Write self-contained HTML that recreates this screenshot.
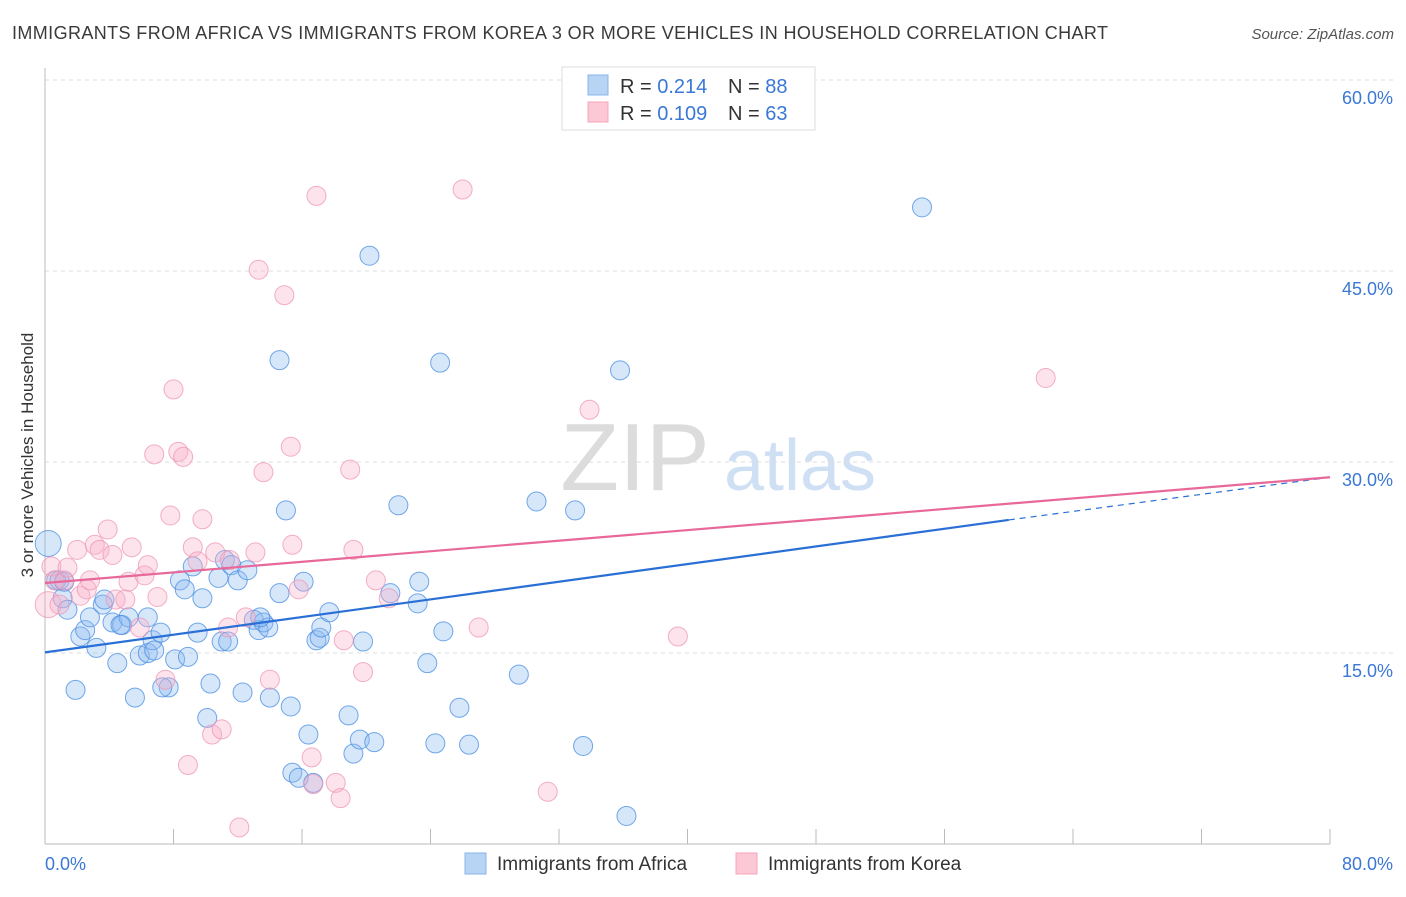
<!DOCTYPE html>
<html><head><meta charset="utf-8">
<style>
body{margin:0;background:#fff;font-family:"Liberation Sans",sans-serif;}
svg text{font-family:"Liberation Sans",sans-serif;}
</style></head>
<body>
<svg id="chart" width="1406" height="892" viewBox="0 0 1406 892" xmlns="http://www.w3.org/2000/svg">
<text x="12" y="39" font-size="18" fill="#3a3a3a" textLength="1096" lengthAdjust="spacing">IMMIGRANTS FROM AFRICA VS IMMIGRANTS FROM KOREA 3 OR MORE VEHICLES IN HOUSEHOLD CORRELATION CHART</text>
<text x="1394" y="39" font-size="15" fill="#555" font-style="italic" text-anchor="end">Source: ZipAtlas.com</text>
<g>
<text x="635" y="490" font-size="96" fill="#dcdcdc" font-family="Liberation Serif,serif" text-anchor="middle">ZIP</text>
<text x="800" y="490" font-size="72" fill="#cfe0f4" text-anchor="middle">atlas</text>
</g>
<g id="grid"></g>
<g id="axes"></g>
<g id="marks"></g>
<g id="lines"></g>
<text transform="translate(33,455) rotate(-90)" font-size="17" fill="#333" text-anchor="middle">3 or more Vehicles in Household</text>
<g>
<rect x="562" y="67" width="253" height="63" fill="#fff" stroke="#ddd"/>
<rect x="588" y="75" width="20" height="20" fill="#b8d4f5" stroke="#8ab4e8"/>
<rect x="588" y="102" width="20" height="20" fill="#fcc8d6" stroke="#f3a5bb"/>
<text x="620" y="93" font-size="20" fill="#333">R = <tspan fill="#3a78d4">0.214</tspan></text>
<text x="728" y="93" font-size="20" fill="#333">N = <tspan fill="#3a78d4">88</tspan></text>
<text x="620" y="120" font-size="20" fill="#333">R = <tspan fill="#3a78d4">0.109</tspan></text>
<text x="728" y="120" font-size="20" fill="#333">N = <tspan fill="#3a78d4">63</tspan></text>
</g>
<g>
<rect x="465" y="853" width="21" height="21" fill="#b8d4f5" stroke="#8ab4e8"/>
<text x="497" y="870" font-size="19" fill="#333">Immigrants from Africa</text>
<rect x="736" y="853" width="21" height="21" fill="#fcc8d6" stroke="#f3a5bb"/>
<text x="768" y="870" font-size="19" fill="#333">Immigrants from Korea</text>
</g>
</svg>
<script>
const yTicks=[15,30,45,60];
const yTickLabels=["15.0%","30.0%","45.0%","60.0%"];
const xTicks=[0,8,16,24,32,40,48,56,64,72,80];
const xEndLabels=["0.0%","80.0%"];
const africaX=[0.2,0.7,1.1,1.4,1.9,2.2,2.5,2.8,3.2,3.6,3.7,4.2,4.5,4.8,5.2,5.6,5.9,6.4,6.7,6.8,7.2,7.7,8.1,8.4,8.7,8.9,9.2,9.5,9.8,10.1,10.3,10.8,11.0,11.2,11.4,11.6,12.0,12.3,12.6,13.0,13.3,13.6,13.9,14.0,14.6,14.6,15.0,15.3,15.4,15.8,16.1,16.4,16.7,16.9,17.1,17.2,17.7,18.9,19.2,19.6,19.8,20.2,20.5,21.5,22.0,23.2,23.3,23.8,24.3,24.6,24.8,25.8,26.4,29.5,30.6,33.0,33.5,35.8,36.2,54.6,13.4,6.4,7.3,0.9,1.2,4.7];
const africaY=[23.6,20.7,19.3,18.4,12.1,16.3,16.8,17.8,15.4,18.8,19.2,17.4,14.2,17.2,17.8,11.5,14.8,15.0,16.0,15.2,16.6,12.3,14.5,20.7,20.0,14.7,21.8,16.6,19.3,9.9,12.6,20.9,15.9,22.3,15.9,21.9,20.7,11.9,21.5,17.6,16.8,17.4,17.0,11.5,19.7,38.0,26.2,10.8,5.6,5.2,20.6,8.6,4.8,16.0,16.2,17.0,18.2,10.1,7.1,8.2,15.9,46.2,8.0,19.7,26.6,18.9,20.6,14.2,7.9,37.8,16.7,10.7,7.8,13.3,26.9,26.2,7.7,37.2,2.2,50.0,17.8,17.8,12.3,20.7,20.6,17.2];
const koreaX=[0.2,0.4,0.6,1.2,1.4,2.0,2.2,2.6,3.1,3.4,3.9,4.2,4.4,5.0,5.2,5.4,5.9,6.2,6.4,6.8,7.0,7.5,7.8,8.0,8.3,8.6,9.2,9.5,9.8,10.4,10.6,11.0,11.4,12.1,12.5,13.1,13.3,13.6,14.0,14.9,15.3,15.4,15.8,16.6,16.7,16.9,18.1,18.4,18.6,19.0,19.2,19.8,20.6,21.4,26.0,27.0,31.3,33.9,39.4,62.3,0.9,2.8,11.5,8.9];
const koreaY=[18.8,21.8,20.7,20.7,21.7,23.1,19.5,20.0,23.5,23.1,24.7,22.7,19.2,19.2,20.6,23.3,17.0,21.1,21.9,30.6,19.4,12.9,25.8,35.7,30.8,30.4,23.3,22.2,25.5,8.6,22.9,9.0,17.0,1.3,17.8,22.9,45.1,29.2,12.9,43.1,31.2,23.5,20.0,6.8,4.7,50.9,4.8,3.6,16.0,29.4,23.1,13.5,20.7,19.3,51.4,17.0,4.1,34.1,16.3,36.6,18.8,20.7,22.3,6.2];
const africaFit=[[0,15.05],[60,25.45],[80,28.8]];
const koreaFit=[[0,20.5],[80,28.8]];
const NS="http://www.w3.org/2000/svg";
const sx=v=>45+v*(1285/80);
const sy=v=>844-v*(764/60);
function mk(tag,attrs,parent){const e=document.createElementNS(NS,tag);for(const k in attrs)e.setAttribute(k,attrs[k]);document.getElementById(parent).appendChild(e);return e;}
yTicks.forEach((t,i)=>{
 const g=mk('line',{x1:45,x2:1394,y1:sy(t),y2:sy(t),stroke:'#ddd','stroke-dasharray':'4 4'},'grid');
 
 
 const l=mk('text',{x:1393,y:sy(t)+24,'font-size':18,fill:'#3a78d4','text-anchor':'end'},'axes');
 l.textContent=yTickLabels[i];
 
 
});
const ya=mk('line',{x1:45,x2:45,y1:68,y2:844,stroke:'#bbb'},'axes');


const xa=mk('line',{x1:45,x2:1330,y1:844,y2:844,stroke:'#bbb'},'axes');


xTicks.forEach(t=>{
 const tk=mk('line',{x1:sx(t),x2:sx(t),y1:829,y2:844,stroke:'#bbb'},'axes');
 
 
});
const xl0=mk('text',{x:45,y:870,'font-size':18,fill:'#3a78d4'},'axes');
xl0.textContent=xEndLabels[0];


const xl1=mk('text',{x:1393,y:870,'font-size':18,fill:'#3a78d4','text-anchor':'end'},'axes');
xl1.textContent=xEndLabels[1];


africaX.forEach((x,i)=>{
 const c=mk('circle',{cx:sx(x),cy:sy(africaY[i]),r:i===0?13:9.5,fill:'rgba(140,185,240,0.35)',stroke:'rgba(70,140,225,0.75)','stroke-width':1},'marks');
 
 
});
koreaX.forEach((x,i)=>{
 const c=mk('circle',{cx:sx(x),cy:sy(koreaY[i]),r:i===0?13:9.5,fill:'rgba(248,175,200,0.35)',stroke:'rgba(238,150,180,0.75)','stroke-width':1},'marks');
 
 
});
const b1=mk('line',{x1:sx(africaFit[0][0]),y1:sy(africaFit[0][1]),x2:sx(africaFit[1][0]),y2:sy(africaFit[1][1]),stroke:'#2a6fd6','stroke-width':2.2},'lines');


const b2=mk('line',{x1:sx(africaFit[1][0]),y1:sy(africaFit[1][1]),x2:sx(africaFit[2][0]),y2:sy(africaFit[2][1]),stroke:'#2a6fd6','stroke-width':1.2,'stroke-dasharray':'6 5'},'lines');


const p1=mk('line',{x1:sx(koreaFit[0][0]),y1:sy(koreaFit[0][1]),x2:sx(koreaFit[1][0]),y2:sy(koreaFit[1][1]),stroke:'#e8689a','stroke-width':2.2},'lines');


</script>
</body></html>
